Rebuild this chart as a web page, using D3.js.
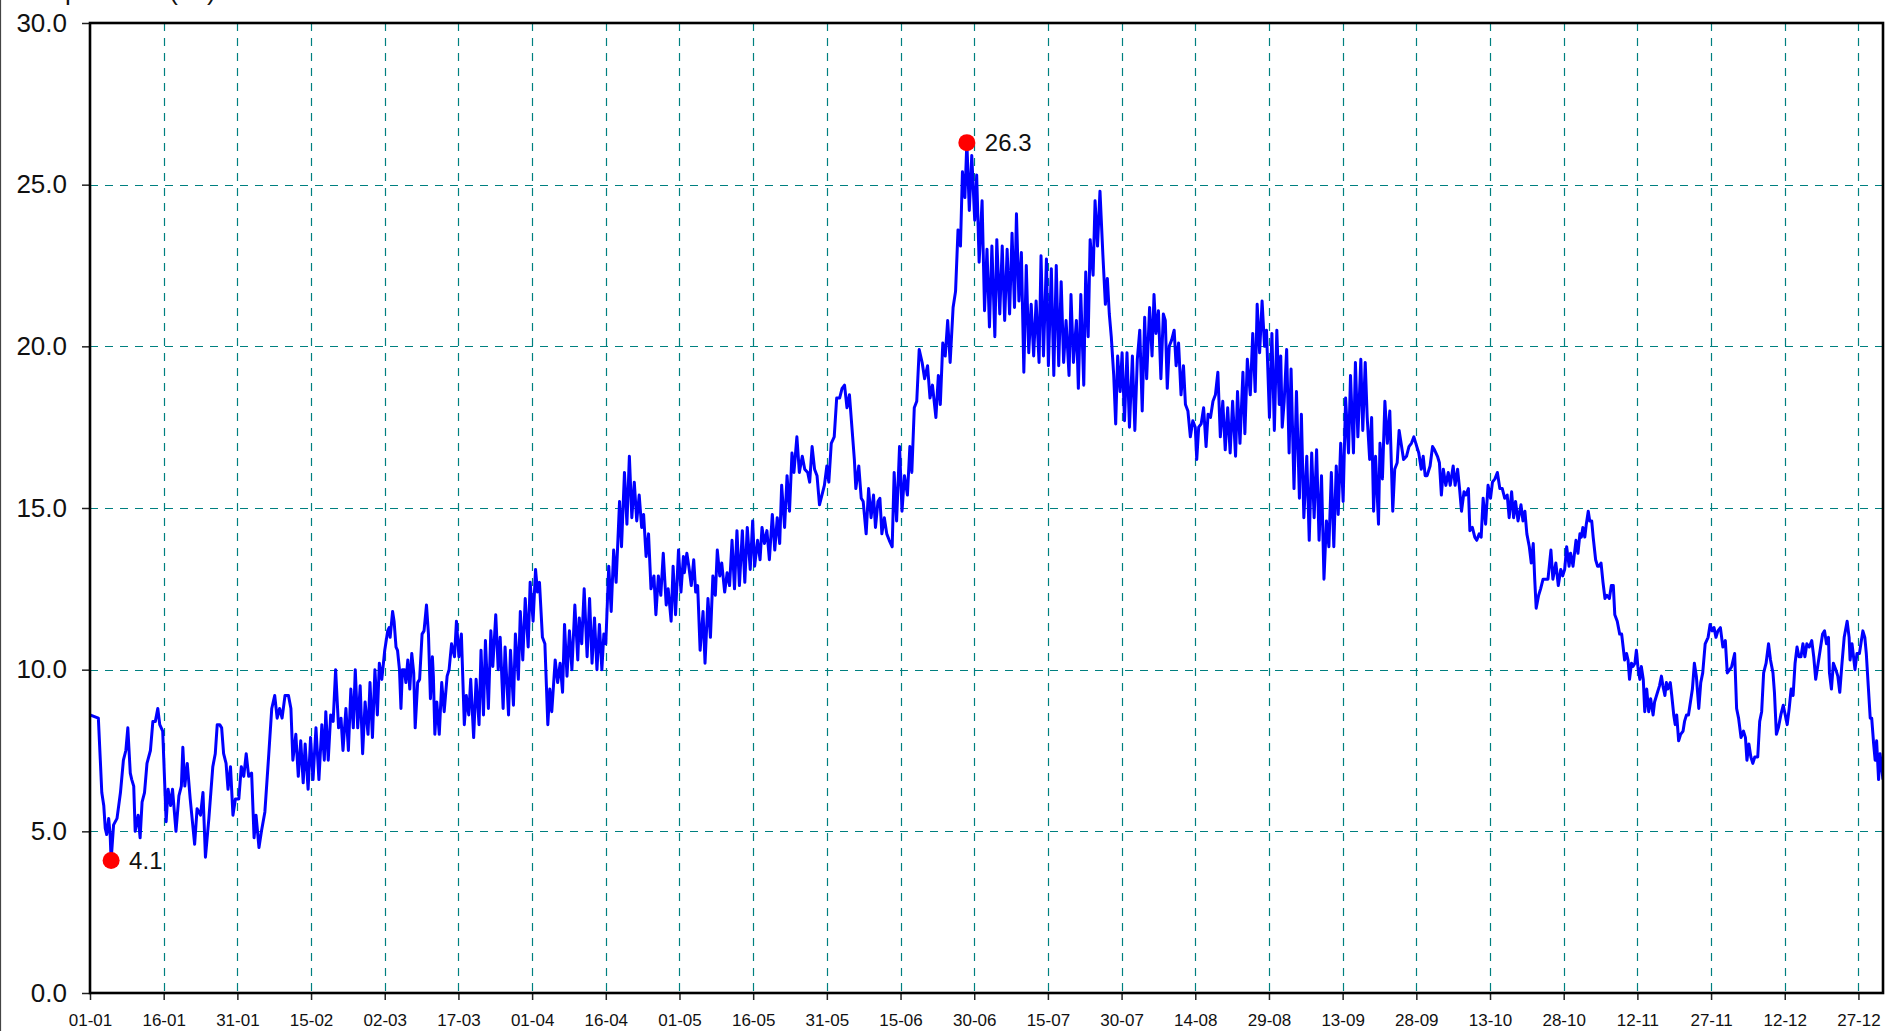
<!DOCTYPE html>
<html>
<head>
<meta charset="utf-8">
<script src="https://cdn.jsdelivr.net/npm/d3@7"></script>
<style>
  body { margin: 0; background: #fff; }
  svg { display: block; font-family: "Liberation Sans", Arial, sans-serif; }
</style>
</head>
<body>
<svg id="chart" width="1885" height="1031"></svg>
<script>
// axis text
const yTitle = "Temperature (°C)";
const xTickLabels = ["01-01","16-01","31-01","15-02","02-03","17-03","01-04","16-04","01-05","16-05","31-05","15-06","30-06","15-07","30-07","14-08","29-08","13-09","28-09","13-10","28-10","12-11","27-11","12-12","27-12"];
const yTickValues = [0, 5, 10, 15, 20, 25, 30];

// readings: [day of year (0 = 1 Jan), temperature °C]
const janFeb = [[0,8.6],[1.7,8.5],[2.1,7.2],[2.4,6.2],[2.8,5.8],[3.1,5.1],[3.4,4.9],[3.8,5.4],[4.1,4.9],[4.3,4.1],[4.8,5.2],[5.5,5.4],[6.2,6.2],[6.8,7.2],[7.3,7.5],[7.7,8.2],[8.2,6.8],[8.5,6.6],[8.9,6.4],[9.2,5.0],[9.8,5.5],[10.2,4.8],[10.6,5.9],[11.1,6.2],[11.6,7.1],[12.3,7.5],[12.8,8.4],[13.3,8.4],[13.8,8.8],[14.2,8.3],[14.8,8.1],[15.5,5.3],[15.9,6.3],[16.4,5.8],[16.8,6.3],[17.5,5.0],[18.1,6.1],[18.6,6.4],[18.9,7.6],[19.3,6.4],[19.8,7.1],[20.4,6.0],[21.3,4.6],[21.8,5.7],[22.5,5.5],[23.0,6.2],[23.5,4.2],[24.2,5.4],[25.0,7.0],[25.5,7.4],[25.9,8.3],[26.4,8.3],[26.8,8.2],[27.2,7.4],[27.7,7.1],[28.1,6.3],[28.6,7.0],[29.1,5.5],[29.6,6.0],[30.3,6.0],[30.8,7.0],[31.3,6.7],[31.8,7.4],[32.3,6.7],[32.9,6.8],[33.4,4.8],[33.8,5.5],[34.4,4.5],[34.9,5.0],[35.6,5.6],[36.4,7.4],[37.0,8.8],[37.6,9.2],[38.1,8.5],[38.6,8.8],[39.1,8.5],[39.7,9.2],[40.4,9.2],[40.9,8.8],[41.3,7.2],[41.9,8.0],[42.4,6.7],[42.9,7.8],[43.4,6.5],[43.8,7.7],[44.4,6.3],[44.9,7.9],[45.4,6.6],[46.0,8.2],[46.6,6.6],[47.2,8.3],[47.7,7.2],[48.0,8.7],[48.5,7.2],[49.0,8.6],[49.5,8.4],[50.0,10.0],[50.6,8.2],[51.1,8.5],[51.5,7.5],[52.1,8.8],[52.6,7.5],[53.1,9.4],[53.6,8.2],[54.0,10.0],[54.5,8.2],[55.0,9.5],[55.5,7.4],[56.0,9.0],[56.6,8.0],[57.0,9.6],[57.5,7.9],[58.0,10.0],[58.5,8.6],[58.9,10.2],[59.4,9.7],[60.0,10.6]];
const marApr = [[60.6,11.2],[60.9,11.3],[61.1,11.0],[61.6,11.8],[61.9,11.5],[62.3,10.7],[62.6,10.6],[63.0,10.0],[63.3,8.8],[63.6,10.0],[64.0,10.0],[64.3,9.6],[64.7,10.3],[65.1,9.4],[65.5,10.5],[65.9,9.9],[66.2,8.2],[66.7,9.6],[67.1,9.7],[67.6,11.1],[68.0,11.2],[68.5,12.0],[68.9,11.1],[69.3,9.1],[69.7,10.4],[69.9,9.8],[70.2,8.0],[70.6,9.0],[71.1,8.0],[71.6,9.6],[72.1,8.7],[72.7,9.8],[73.1,10.0],[73.6,10.8],[74.2,10.4],[74.6,11.5],[75.1,10.4],[75.6,11.1],[76.2,8.3],[76.6,9.2],[77.1,8.6],[77.5,9.7],[78.1,7.9],[78.6,9.7],[79.2,8.3],[79.6,10.6],[80.1,8.6],[80.5,10.9],[81.1,8.8],[81.6,11.2],[82.0,10.1],[82.6,11.7],[83.1,10.0],[83.5,11.0],[84.1,8.8],[84.5,10.7],[85.2,8.6],[85.6,10.6],[86.2,8.9],[86.6,11.1],[87.2,9.7],[87.6,11.8],[88.1,10.3],[88.6,12.2],[89.2,10.7],[89.6,12.7],[90.2,11.5],[90.7,13.1],[91.1,12.4],[91.5,12.7],[92.1,11.0],[92.6,10.8],[93.2,8.3],[93.6,9.4],[94.0,8.7],[94.7,10.3],[95.2,9.6],[95.7,10.2],[96.2,9.3],[96.6,11.4],[97.1,9.8],[97.6,11.2],[98.1,10.0],[98.7,12.0],[99.3,10.3],[99.6,11.6],[100.1,10.8],[100.6,12.5],[101.2,10.4],[101.7,12.2],[102.2,10.2],[102.7,11.6],[103.2,10.0],[103.7,11.4],[104.2,10.0],[104.6,11.1],[105.0,10.8],[105.6,13.2],[106.1,11.8],[106.6,13.7],[107.1,12.7],[107.8,15.2],[108.2,13.8],[108.8,16.1],[109.3,14.5],[109.8,16.6],[110.3,14.7],[110.8,15.8],[111.3,14.6],[111.8,15.4],[112.3,14.4],[112.7,14.8],[113.2,13.5],[113.7,14.2],[114.2,12.5],[114.8,12.9],[115.2,11.7],[115.7,12.9],[116.2,12.3],[116.7,13.6],[117.3,12.0],[117.7,12.5],[118.3,11.5],[118.7,13.2],[119.2,11.7],[119.8,13.7],[120.3,12.4],[120.8,13.5]];
const mayJun = [[121.0,13.0],[121.5,13.6],[121.9,13.2],[122.4,12.6],[122.9,13.4],[123.3,12.4],[123.7,12.6],[124.2,10.6],[124.8,11.8],[125.2,10.2],[125.8,12.2],[126.3,11.0],[126.8,12.9],[127.3,12.3],[127.7,13.7],[128.2,12.9],[128.6,13.3],[129.2,12.4],[129.7,13.0],[130.2,12.6],[130.7,14.0],[131.2,12.5],[131.7,14.3],[132.2,12.6],[132.8,14.3],[133.3,12.7],[133.8,14.4],[134.4,13.1],[134.9,14.6],[135.3,13.2],[135.9,14.0],[136.4,13.4],[136.8,14.4],[137.3,13.9],[137.8,14.3],[138.3,13.4],[138.9,14.8],[139.4,13.7],[139.9,14.7],[140.4,13.9],[140.8,15.7],[141.4,14.4],[141.9,16.0],[142.4,14.9],[142.9,16.7],[143.3,16.1],[143.9,17.2],[144.4,16.1],[145.0,16.6],[145.5,16.2],[146.1,16.1],[146.5,15.8],[147.0,16.9],[147.5,16.2],[148.0,16.0],[148.5,15.1],[149.0,15.4],[149.5,15.7],[150.0,16.3],[150.4,15.8],[150.9,17.0],[151.5,17.2],[152.0,18.4],[152.6,18.4],[153.1,18.7],[153.6,18.8],[154.1,18.1],[154.6,18.5],[155.1,17.5],[155.6,16.5],[155.9,15.6],[156.5,16.3],[157.0,15.3],[157.4,15.2],[158.0,14.2],[158.5,15.6],[159.0,14.7],[159.5,15.4],[159.9,14.4],[160.4,15.2],[160.8,15.3],[161.2,14.2],[161.7,14.7],[162.2,14.2],[162.7,14.0],[163.3,13.8],[163.7,16.1],[164.2,14.6],[164.8,16.9],[165.3,14.9],[165.8,16.0],[166.4,15.4],[166.9,16.9],[167.3,16.1],[167.8,18.1],[168.3,18.3],[168.8,19.9],[169.4,19.5],[169.9,19.0],[170.5,19.4],[171.0,18.4],[171.5,18.8],[172.2,17.8],[172.7,19.1],[173.1,18.2],[173.6,20.1],[174.1,19.7],[174.6,20.8],[175.1,19.5],[175.7,21.2],[176.2,21.7],[176.7,23.6],[177.2,23.1],[177.6,25.4],[178.1,24.6],[178.5,26.3],[179.0,24.2],[179.5,25.9],[180.1,23.9],[180.5,25.3],[181.0,22.6]];
const julAug = [[181.6,24.5],[182.1,21.1],[182.6,23.0],[183.1,20.6],[183.6,23.1],[184.2,20.3],[184.6,23.3],[185.2,21.0],[185.7,23.1],[186.2,20.8],[186.7,23.0],[187.2,21.0],[187.7,23.5],[188.2,21.2],[188.6,24.1],[189.1,21.4],[189.6,22.9],[190.1,19.2],[190.6,22.5],[191.1,19.8],[191.6,21.3],[192.1,19.7],[192.6,21.4],[193.2,19.5],[193.6,22.8],[194.1,19.7],[194.7,22.7],[195.1,19.4],[195.7,22.4],[196.2,19.1],[196.7,22.5],[197.2,19.4],[197.7,22.0],[198.2,19.5],[198.7,20.8],[199.3,19.1],[199.7,21.6],[200.2,19.5],[200.8,20.8],[201.2,18.7],[201.7,21.6],[202.3,18.8],[202.7,22.3],[203.2,20.3],[203.6,23.3],[204.2,22.2],[204.6,24.5],[205.1,23.1],[205.6,24.8],[206.2,22.8],[206.7,21.3],[207.1,22.1],[207.5,21.0],[207.9,20.3],[208.4,19.1],[208.8,17.6],[209.2,19.7],[209.7,18.6],[210.1,19.8],[210.6,17.7],[211.1,19.8],[211.6,17.5],[212.2,19.7],[212.7,17.4],[213.2,19.6],[213.7,20.5],[214.2,18.0],[214.7,20.9],[215.1,19.0],[215.7,21.2],[216.2,19.7],[216.6,21.6],[217.0,20.4],[217.5,21.1],[218.0,19.0],[218.5,21.0],[218.9,20.8],[219.3,18.7],[219.7,20.0],[220.2,20.2],[220.7,20.5],[221.1,19.4],[221.6,20.1],[222.1,18.5],[222.6,19.4],[223.0,18.2],[223.5,18.0],[224.0,17.2],[224.5,17.7],[225.0,17.5],[225.3,16.5],[225.7,17.5],[226.2,17.6],[226.7,18.1],[227.2,16.9],[227.6,17.9],[228.1,17.8],[228.6,18.3],[229.1,18.5],[229.6,19.2],[230.1,17.2],[230.6,18.3],[231.1,16.8],[231.6,18.1],[232.1,16.7],[232.6,18.3],[233.2,16.6],[233.6,18.6],[234.1,17.0],[234.7,19.2],[235.1,17.3],[235.6,19.6],[236.2,18.5],[236.7,20.4],[237.2,18.6],[237.6,21.3],[238.1,19.8],[238.6,21.4],[239.1,20.0],[239.5,20.5],[240.1,17.8],[240.6,20.4],[241.1,17.4],[241.6,20.5],[242.1,18.2]];
const sepOct = [[242.4,19.7],[242.7,17.5],[243.1,18.3],[243.6,19.9],[244.1,16.7],[244.5,19.3],[245.1,15.6],[245.6,18.6],[246.2,15.3],[246.6,17.9],[247.1,14.7],[247.7,16.6],[248.2,14.0],[248.7,16.7],[249.2,14.7],[249.7,16.8],[250.2,14.0],[250.7,16.0],[251.2,12.8],[251.7,14.6],[252.2,13.8],[252.7,16.1],[253.2,13.8],[253.7,16.3],[254.1,14.8],[254.6,17.0],[255.1,15.2],[255.6,18.4],[256.2,16.7],[256.6,19.1],[257.2,16.7],[257.6,19.5],[258.1,17.2],[258.7,19.6],[259.1,17.4],[259.6,19.5],[260.0,17.8],[260.5,16.5],[260.9,17.8],[261.3,14.9],[261.7,16.6],[262.3,14.5],[262.6,17.0],[263.1,15.9],[263.6,18.3],[264.1,17.0],[264.6,18.0],[265.2,14.9],[265.6,16.2],[266.1,16.4],[266.5,17.4],[266.9,17.0],[267.4,16.5],[268.0,16.6],[268.5,16.9],[269.0,17.0],[269.5,17.2],[270.1,16.9],[270.5,16.7],[271.0,16.2],[271.4,16.6],[271.8,16.0],[272.2,16.0],[272.8,16.3],[273.3,16.9],[273.7,16.8],[274.3,16.6],[274.7,16.4],[275.1,15.4],[275.5,16.2],[276.0,15.7],[276.5,16.1],[276.9,15.7],[277.5,16.3],[277.9,15.7],[278.4,16.2],[278.8,15.6],[279.2,14.9],[279.7,15.5],[280.1,15.4],[280.6,15.6],[280.9,14.3],[281.4,14.4],[281.9,14.1],[282.3,14.0],[282.8,14.2],[283.2,14.1],[283.6,15.3],[284.1,14.5],[284.6,15.7],[285.1,15.3],[285.5,15.8],[286.0,15.9],[286.5,16.1],[287.0,15.6],[287.5,15.6],[288.0,15.3],[288.5,15.4],[288.9,14.7],[289.4,15.5],[289.8,14.7],[290.2,15.2],[290.7,14.6],[291.3,15.1],[291.7,14.6],[292.1,14.9],[292.5,14.2],[293.0,13.8],[293.4,13.3],[293.8,13.9],[294.1,12.8],[294.4,11.9],[294.9,12.3],[295.3,12.5],[295.8,12.8],[296.3,12.8],[296.8,12.8],[297.4,13.7],[297.8,12.8],[298.4,13.3],[298.9,12.6],[299.4,13.1],[299.8,12.9],[300.2,13.1],[300.6,13.8],[301.1,13.2],[301.4,13.6],[301.9,13.2],[302.5,14.0]];
const novDec = [[302.9,13.6],[303.3,14.2],[303.6,14.1],[303.9,14.4],[304.3,14.1],[304.6,14.5],[305.0,14.9],[305.3,14.6],[305.7,14.6],[306.0,14.1],[306.5,13.4],[306.9,13.2],[307.2,13.2],[307.6,13.3],[308.0,12.7],[308.4,12.2],[308.8,12.3],[309.3,12.2],[309.7,12.6],[310.1,12.6],[310.4,11.7],[310.9,11.5],[311.4,11.1],[311.8,11.1],[312.1,10.7],[312.4,10.3],[312.8,10.5],[313.1,10.3],[313.4,9.7],[313.8,10.2],[314.1,10.1],[314.5,10.2],[314.8,10.6],[315.1,10.1],[315.5,9.7],[315.8,10.1],[316.2,9.7],[316.5,8.7],[316.9,9.4],[317.3,8.7],[317.7,9.1],[318.2,8.6],[318.5,9.0],[319.1,9.3],[319.5,9.5],[319.9,9.8],[320.2,9.5],[320.6,9.2],[320.9,9.6],[321.2,9.4],[321.7,9.6],[322.0,9.2],[322.4,8.6],[322.7,8.3],[323.0,8.6],[323.4,7.8],[323.8,8.0],[324.3,8.1],[324.6,8.4],[325.0,8.6],[325.4,8.6],[325.8,9.0],[326.2,9.4],[326.6,10.2],[327.0,9.8],[327.5,8.8],[327.9,9.6],[328.3,9.9],[328.8,10.8],[329.4,11.0],[329.8,11.4],[330.2,11.2],[330.6,11.3],[331.0,11.0],[331.4,11.2],[331.9,11.3],[332.4,10.7],[332.9,10.9],[333.3,9.9],[333.8,10.0],[334.2,10.1],[334.8,10.5],[335.2,8.8],[335.6,8.5],[336.1,7.9],[336.6,8.1],[337.0,7.9],[337.3,7.2],[337.7,7.7],[338.1,7.3],[338.5,7.1],[338.9,7.3],[339.5,7.3],[339.9,8.4],[340.3,8.7],[340.7,9.9],[341.2,10.2],[341.7,10.8],[342.1,10.3],[342.6,9.9],[342.9,9.3],[343.3,8.0],[343.7,8.2],[344.2,8.6],[344.7,8.9],[345.1,8.6],[345.5,8.3],[345.9,8.8],[346.3,9.4],[346.7,9.2],[347.1,10.2],[347.5,10.7],[347.9,10.4],[348.3,10.4],[348.7,10.8],[349.1,10.4],[349.5,10.8],[350.0,10.7],[350.5,10.9],[350.9,10.4],[351.3,9.7],[351.7,10.1],[352.2,10.6],[352.7,11.1],[353.1,11.2],[353.5,10.8],[353.9,11.0],[354.1,9.9],[354.5,9.4],[354.9,10.2],[355.4,10.0],[355.8,9.8],[356.2,9.3],[356.6,10.1],[357.1,11.0],[357.7,11.5],[358.1,11.0],[358.3,10.3],[358.7,10.8],[359.0,10.4],[359.3,10.0],[359.7,10.5],[360.2,10.5],[360.5,10.8],[360.9,11.2],[361.3,11.0],[361.6,10.5],[362.0,9.5],[362.4,8.5],[362.7,8.5],[363.1,7.7],[363.4,7.2],[363.7,7.8],[364.1,6.6],[364.4,7.4],[365.0,6.6]];

const width = 1885, height = 1031;
const margin = {top: 23, right: 2, bottom: 38, left: 90};

const parseDay = d3.utcParse("%d-%m");
const yearStart = parseDay("01-01");
const yearEnd = d3.utcYear.offset(yearStart, 1);
const toDate = day => new Date(yearStart.getTime() + day * 864e5);

const series = [janFeb, marApr, mayJun, julAug, sepOct, novDec]
  .flat()
  .map(([day, t]) => ({date: toDate(day), t: t}));

const x = d3.scaleUtc()
  .domain([yearStart, yearEnd])
  .range([margin.left, width - margin.right]);
const y = d3.scaleLinear()
  .domain([0, 30])
  .range([height - margin.bottom, margin.top]);

const svg = d3.select("#chart");
const xTicks = xTickLabels.map(parseDay);

// outer border on the left
svg.append("line")
  .attr("x1", 0.5).attr("x2", 0.5)
  .attr("y1", 0).attr("y2", height)
  .attr("stroke", "#444").attr("stroke-width", 1.2);

// grid
const grid = svg.append("g")
  .attr("stroke", "#008080")
  .attr("stroke-width", 1.2)
  .attr("stroke-dasharray", "8,7");

grid.selectAll("line.v")
  .data(xTicks.slice(1))
  .join("line")
  .attr("class", "v")
  .attr("x1", d => Math.round(x(d)) + 0.5)
  .attr("x2", d => Math.round(x(d)) + 0.5)
  .attr("y1", y(30))
  .attr("y2", y(0));

grid.selectAll("line.h")
  .data(yTickValues.filter(v => v > 0 && v < 30))
  .join("line")
  .attr("class", "h")
  .attr("x1", x.range()[0])
  .attr("x2", x.range()[1])
  .attr("y1", d => Math.round(y(d)) + 0.5)
  .attr("y2", d => Math.round(y(d)) + 0.5);

// series line
svg.append("clipPath").attr("id", "plotClip")
  .append("rect")
  .attr("x", x.range()[0]).attr("y", y(30))
  .attr("width", x.range()[1] - x.range()[0])
  .attr("height", y(0) - y(30));

const line = d3.line()
  .x(d => x(d.date))
  .y(d => y(d.t));

svg.append("path")
  .datum(series)
  .attr("clip-path", "url(#plotClip)")
  .attr("fill", "none")
  .attr("stroke", "#0000ff")
  .attr("stroke-width", 3)
  .attr("stroke-linejoin", "round")
  .attr("d", line);

// axes
const xAxis = svg.append("g")
  .attr("transform", `translate(0,${y(0)})`)
  .call(d3.axisBottom(x)
    .tickValues(xTicks)
    .tickFormat((d, i) => xTickLabels[i])
    .tickSize(7)
    .tickPadding(14));
xAxis.select(".domain").remove();
xAxis.selectAll("line").attr("stroke", "#222").attr("stroke-width", 1.5);
xAxis.selectAll("text").attr("font-size", 17).attr("fill", "#111")
  .attr("font-family", "Liberation Sans, Arial, sans-serif");

const yAxis = svg.append("g")
  .attr("transform", `translate(${x.range()[0]},0)`)
  .call(d3.axisLeft(y)
    .tickValues(yTickValues)
    .tickFormat(d3.format(".1f"))
    .tickSize(8)
    .tickPadding(15));
yAxis.select(".domain").remove();
yAxis.selectAll("line").attr("stroke", "#222").attr("stroke-width", 1.5);
yAxis.selectAll("text").attr("font-size", 26).attr("fill", "#111")
  .attr("font-family", "Liberation Sans, Arial, sans-serif");

// frame
svg.append("rect")
  .attr("x", x.range()[0]).attr("y", y(30))
  .attr("width", x.range()[1] - x.range()[0])
  .attr("height", y(0) - y(30))
  .attr("fill", "none")
  .attr("stroke", "#000")
  .attr("stroke-width", 2.6);

// y title (partly above the page edge, as in the source)
svg.append("text")
  .attr("x", 16).attr("y", 0)
  .attr("font-size", 26)
  .attr("fill", "#111")
  .text(yTitle);

// min and max markers
const maxPt = series.reduce((a, b) => (b.t > a.t ? b : a));
const minPt = series.reduce((a, b) => (b.t < a.t ? b : a));

const marks = svg.append("g").selectAll("g")
  .data([minPt, maxPt])
  .join("g")
  .attr("transform", d => `translate(${x(d.date)},${y(d.t)})`);

marks.append("circle")
  .attr("r", 8.5)
  .attr("fill", "#ff0000");

marks.append("text")
  .attr("x", 18)
  .attr("dy", "0.35em")
  .attr("font-size", 24)
  .attr("fill", "#111")
  .text(d => d.t.toFixed(1));
</script>
</body>
</html>
